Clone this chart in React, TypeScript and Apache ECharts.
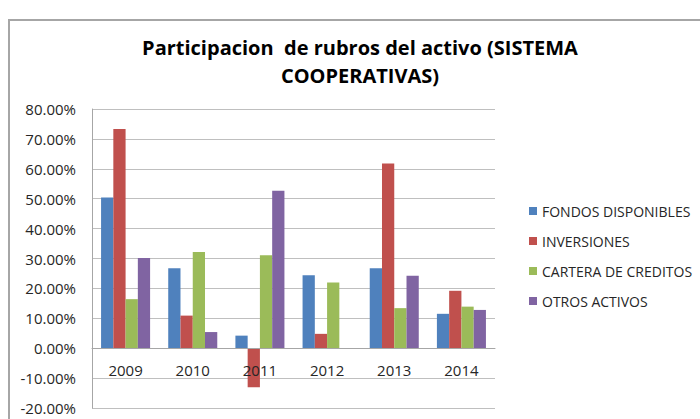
import React, { useEffect, useRef } from "react";
import * as echarts from "echarts";

const categories = ["2009", "2010", "2011", "2012", "2013", "2014"];
const fondosDisponibles = [50.4, 26.7, 4.2, 24.4, 26.7, 11.5];
const inversiones = [73.3, 10.9, -13.1, 4.8, 61.8, 19.2];
const carteraCreditos = [16.4, 32.2, 31.1, 22.0, 13.4, 13.9];
const otrosActivos = [30.2, 5.4, 52.7, 0, 24.2, 12.8];
const seriesNames = ["FONDOS DISPONIBLES", "INVERSIONES", "CARTERA DE CREDITOS", "OTROS ACTIVOS"];
const colors = ["#4F81BD", "#C0504D", "#9BBB59", "#8064A2"];
const titleText = "Participacion  de rubros del activo (SISTEMA\nCOOPERATIVAS)";

export default function App() {
  const ref = useRef<HTMLDivElement>(null);
  useEffect(() => {
    if (!ref.current) return;
    const chart = echarts.init(ref.current, null, { renderer: "svg" });
    const font = "Open Sans";
    const data = [fondosDisponibles, inversiones, carteraCreditos, otrosActivos];
    chart.setOption({
      animation: false,
      backgroundColor: "#ffffff",
      color: colors,
      graphic: [
        {
          type: "rect",
          shape: { x: 9, y: 20, width: 720, height: 430 },
          style: { fill: "none", stroke: "#a6a6a6", lineWidth: 2 },
          silent: true,
        },
        {
          type: "text",
          x: 360,
          y: 33,
          style: {
            text: titleText,
            textAlign: "center",
            fontFamily: font,
            fontWeight: "bold",
            fontSize: 20,
            lineHeight: 28,
            fill: "#000000",
          },
        },
      ],
      legend: {
        orient: "vertical",
        left: 524,
        top: 198,
        itemWidth: 8,
        itemHeight: 8,
        itemGap: 14,
        icon: "rect",
        textStyle: { fontFamily: font, fontSize: 14, color: "#262626", lineHeight: 16 },
        data: seriesNames,
      },
      grid: { left: 92, right: 205, top: 109, bottom: 11, containLabel: false, outerBoundsMode: "none" },
      xAxis: {
        type: "category",
        data: categories,
        offset: -60,
        z: 5,
        axisLine: { onZero: false, lineStyle: { color: "#a6a6a6", width: 1 } },
        axisTick: { show: false },
        axisLabel: { fontFamily: font, fontSize: 15, color: "#262626", margin: 14 },
      },
      yAxis: {
        type: "value",
        min: -20,
        max: 80,
        interval: 10,
        axisLine: { show: true, lineStyle: { color: "#a6a6a6", width: 1 } },
        axisTick: { show: false },
        splitLine: { lineStyle: { color: "#bfbfbf", width: 1 } },
        axisLabel: {
          fontFamily: font,
          fontSize: 15,
          color: "#262626",
          margin: 16,
          formatter: (v: number) => v.toFixed(2) + "%",
        },
      },
      series: seriesNames.map((name, i) => ({
        name,
        type: "bar",
        data: data[i],
        barGap: "0%",
        barCategoryGap: "27%",
        itemStyle: { color: colors[i] },
      })),
    });
    return () => chart.dispose();
  }, []);
  return (
    <div
      ref={ref}
      style={{ position: "fixed", left: 0, top: 0, width: 700, height: 419, background: "#fff" }}
    />
  );
}
